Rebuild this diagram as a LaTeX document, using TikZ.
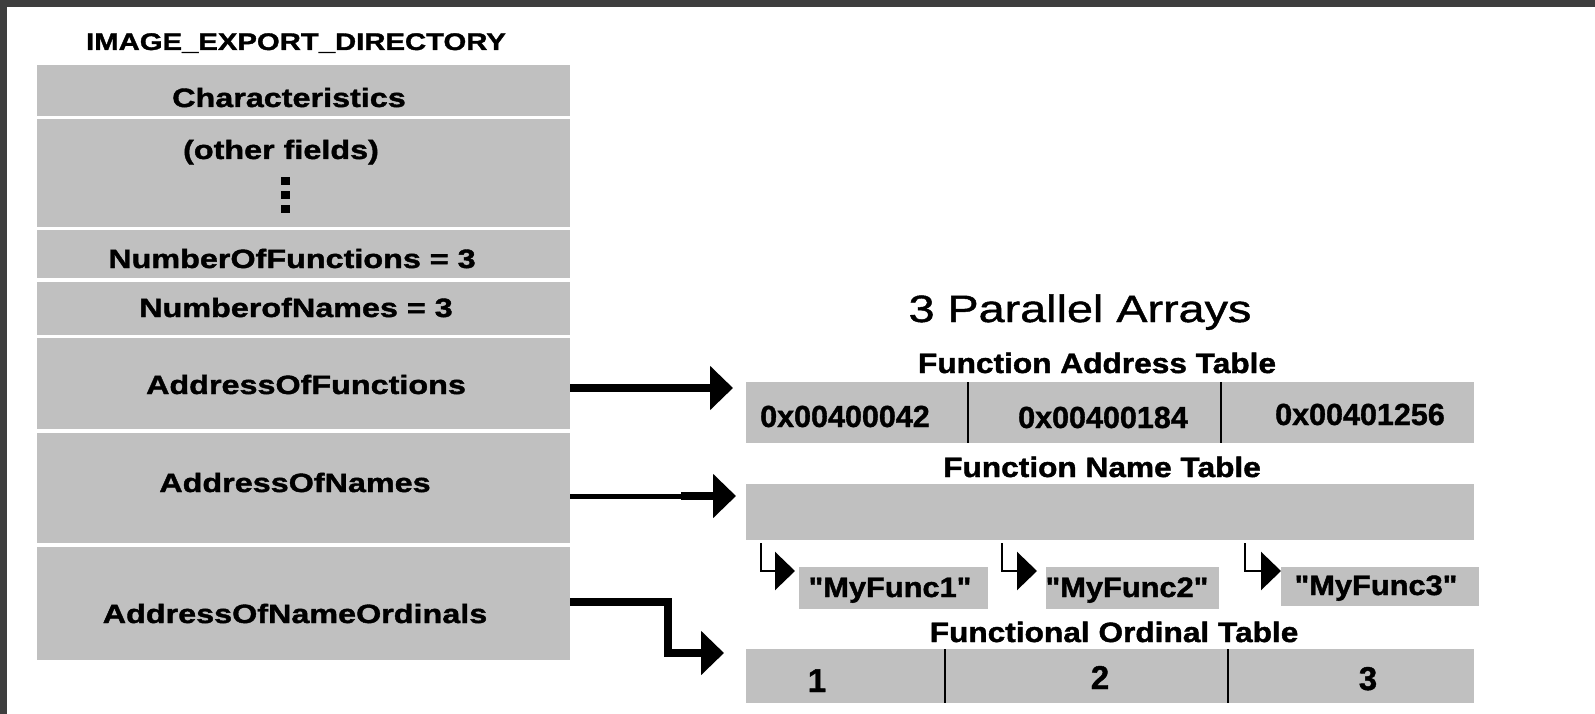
\documentclass[tikz,border=0pt]{standalone}
\usepackage{fontspec}
\usetikzlibrary{arrows.meta}
\newfontfamily\lfont[FakeStretch=1.22,FakeBold=1.5]{Liberation Sans}
\newfontfamily\hfont[FakeStretch=1.13,FakeBold=1.5]{Liberation Sans}
\newfontfamily\mfont[FakeStretch=1.1,FakeBold=1.5]{Liberation Sans}
\newfontfamily\pfont[FakeStretch=1.23,FakeBold=1.2]{Liberation Sans}
\newfontfamily\xfont[FakeBold=1.2]{Liberation Sans}
\definecolor{boxgray}{HTML}{C0C0C0}
\definecolor{frame}{HTML}{3E3E3E}
\tikzset{
  gbox/.style={fill=boxgray, draw=none, inner sep=0pt, anchor=north west},
  ltxt/.style={font=\lfont\bfseries\fontsize{26.5}{30}\selectfont, anchor=base, inner sep=0pt},
  ttxt/.style={font=\lfont\bfseries\fontsize{24}{28}\selectfont, anchor=base, inner sep=0pt},
  htxt/.style={font=\hfont\bfseries\fontsize{28}{32}\selectfont, anchor=base, inner sep=0pt},
  xtxt/.style={font=\xfont\bfseries\fontsize{30.5}{34}\selectfont, anchor=base, inner sep=0pt},
  mtxt/.style={font=\mfont\bfseries\fontsize{28}{32}\selectfont, anchor=base, inner sep=0pt},
  otxt/.style={font=\xfont\bfseries\fontsize{33}{36}\selectfont, anchor=base, inner sep=0pt},
  ptxt/.style={font=\pfont\fontsize{38}{42}\selectfont, anchor=base, inner sep=0pt},
  divider/.style={line width=2.5pt, black},
  bigarrow/.style={line width=8pt, line join=miter, -{Triangle[length=23pt,width=43pt]}},
  smallarrow/.style={line width=2.5pt, line join=miter, -{Triangle[length=20pt,width=38pt]}},
}
\begin{document}
\begin{tikzpicture}[x=1pt,y=-1pt]
\useasboundingbox (0,0) rectangle (1595,714);
\fill[white] (0,0) rectangle (1595,714);
\fill[frame] (0,0) rectangle (1595,7);
\fill[frame] (0,0) rectangle (7,714);

% left structure
\node[ttxt] (title) at (296,50) {IMAGE\_EXPORT\_DIRECTORY};
\node[gbox, minimum width=533pt, minimum height=51pt]  (b1) at (37,65)  {};
\node[gbox, minimum width=533pt, minimum height=108pt] (b2) at (37,119) {};
\node[gbox, minimum width=533pt, minimum height=48pt]  (b3) at (37,230) {};
\node[gbox, minimum width=533pt, minimum height=53pt]  (b4) at (37,282) {};
\node[gbox, minimum width=533pt, minimum height=91pt]  (b5) at (37,338) {};
\node[gbox, minimum width=533pt, minimum height=110pt] (b6) at (37,433) {};
\node[gbox, minimum width=533pt, minimum height=113pt] (b7) at (37,547) {};

\node[ltxt] (t1) at (289,107) {Characteristics};
\node[ltxt] (t2) at (281,159) {(other fields)};
\fill[black] (281,177) rectangle (290,185);
\fill[black] (281,191) rectangle (290,199);
\fill[black] (281,205) rectangle (290,213);
\node[ltxt] (t3) at (292,268) {NumberOfFunctions = 3};
\node[ltxt] (t4) at (296,317) {NumberofNames = 3};
\node[ltxt] (t5) at (306,394) {AddressOfFunctions};
\node[ltxt] (t6) at (295,492) {AddressOfNames};
\node[ltxt] (t7) at (295,623) {AddressOfNameOrdinals};

% right structure
\node[ptxt] (par) at (1080,322) {3 Parallel Arrays};
\node[htxt] (fath) at (1097,373) {Function Address Table};
\node[gbox, minimum width=728pt, minimum height=61pt] (fat) at (746,382) {};
\draw[divider] (968,382) -- (968,443);
\draw[divider] (1221,382) -- (1221,443);
\node[xtxt] (a1) at (845,427) {0x00400042};
\node[xtxt] (a2) at (1103,428) {0x00400184};
\node[xtxt] (a3) at (1360,425) {0x00401256};

\node[htxt] (fnth) at (1102,477) {Function Name Table};
\node[gbox, minimum width=728pt, minimum height=56pt] (fnt) at (746,484) {};

\node[gbox, minimum width=189pt, minimum height=42pt] (mf1) at (799,567) {};
\node[gbox, minimum width=173pt, minimum height=42pt] (mf2) at (1046,567) {};
\node[gbox, minimum width=198pt, minimum height=39pt] (mf3) at (1281,567) {};
\node[mtxt] (m1) at (890,597) {"MyFunc1"};
\node[mtxt] (m2) at (1127,597) {"MyFunc2"};
\node[mtxt] (m3) at (1376,595) {"MyFunc3"};

\node[htxt] (foth) at (1114,642) {Functional Ordinal Table};
\node[gbox, minimum width=728pt, minimum height=54pt] (fot) at (746,649) {};
\draw[divider] (945,649) -- (945,703);
\draw[divider] (1228,649) -- (1228,703);
\node[otxt] (o1) at (817,692) {1};
\node[otxt] (o2) at (1100,689) {2};
\node[otxt] (o3) at (1368,690) {3};

% connectors
\coordinate (tip1) at (733,388);
\draw[bigarrow] (b5.east |- tip1) -- (tip1);

\coordinate (step2) at (682,496);
\coordinate (tip2) at (736,496);
\draw[line width=5pt] (b6.east |- step2) -- (step2);
\draw[bigarrow] ([xshift=-1pt]step2) -- (tip2);

\coordinate (bend3) at (668,602);
\coordinate (tip3) at (724,653);
\draw[bigarrow] (b7.east |- bend3) -- (bend3) |- (tip3);

\coordinate (s1) at (761,543);
\coordinate (e1) at (795,571);
\coordinate (s2) at (1002,543);
\coordinate (e2) at (1037,571);
\coordinate (s3) at (1245,543);
\coordinate (e3) at (1281,571);
\draw[smallarrow] (s1) |- (e1);
\draw[smallarrow] (s2) |- (e2);
\draw[smallarrow] (s3) |- (e3);
\end{tikzpicture}
\end{document}
